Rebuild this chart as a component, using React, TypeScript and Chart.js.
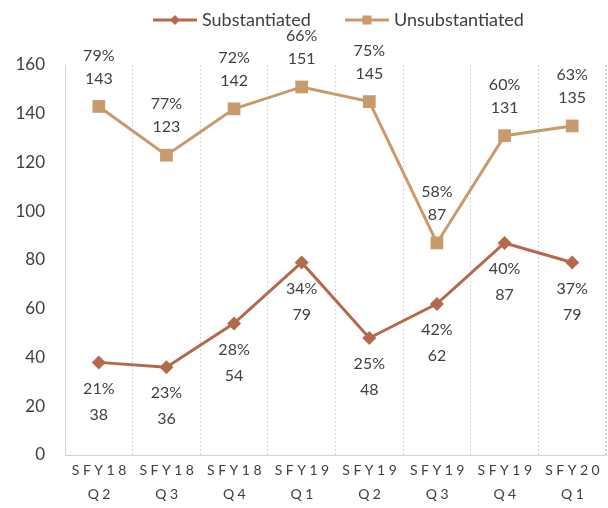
import React, { useEffect, useRef } from "react";
import { Chart, registerables } from "chart.js";

Chart.register(...registerables);

const categories: string[][] = [
  ["SFY18", "Q2"], ["SFY18", "Q3"], ["SFY18", "Q4"], ["SFY19", "Q1"],
  ["SFY19", "Q2"], ["SFY19", "Q3"], ["SFY19", "Q4"], ["SFY20", "Q1"],
];
const substantiated = [38, 36, 54, 79, 48, 62, 87, 79];
const unsubstantiated = [143, 123, 142, 151, 145, 87, 131, 135];
const substantiatedPct = ["21%", "23%", "28%", "34%", "25%", "42%", "40%", "37%"];
const unsubstantiatedPct = ["79%", "77%", "72%", "66%", "75%", "58%", "60%", "63%"];
const yTicks = [0, 20, 40, 60, 80, 100, 120, 140, 160];

const SUB_COLOR = "#B5694C";
const UNSUB_COLOR = "#C99A6B";
const TEXT = "#404040";
const FONT = "Lato, 'Liberation Sans', sans-serif";

const overlayPlugin = {
  id: "overlay",
  afterDatasetsDraw(chart: any) {
    const ctx = chart.ctx;
    ctx.save();
    ctx.fillStyle = TEXT;
    ctx.textAlign = "center";
    ctx.textBaseline = "middle";
    ctx.font = `16px ${FONT}`;
    const m0 = chart.getDatasetMeta(0);
    const m1 = chart.getDatasetMeta(1);
    m0.data.forEach((pt: any, i: number) => {
      ctx.fillText(substantiatedPct[i], pt.x, pt.y + 26);
      ctx.fillText(String(substantiated[i]), pt.x, pt.y + 52);
    });
    m1.data.forEach((pt: any, i: number) => {
      ctx.fillText(unsubstantiatedPct[i], pt.x, pt.y - 51);
      ctx.fillText(String(unsubstantiated[i]), pt.x, pt.y - 28);
    });
    ctx.restore();
  },
  afterDraw(chart: any) {
    const ctx = chart.ctx;
    const xs = chart.scales.x;
    ctx.save();
    // x labels with letter spacing
    ctx.fillStyle = TEXT;
    ctx.textAlign = "center";
    ctx.textBaseline = "middle";
    ctx.font = `14px ${FONT}`;
    (ctx as any).letterSpacing = "3.5px";
    categories.forEach((lines, i) => {
      const x = xs.getPixelForTick(i) + 2;
      ctx.fillText(lines[0], x, 470);
      ctx.fillText(lines[1], x, 494);
    });
    (ctx as any).letterSpacing = "0px";
    // legend
    const items = [
      { label: "Substantiated", color: SUB_COLOR, style: "diamond", x0: 153 },
      { label: "Unsubstantiated", color: UNSUB_COLOR, style: "square", x0: 345 },
    ];
    const ly = 20;
    ctx.font = `18px ${FONT}`;
    ctx.textAlign = "left";
    items.forEach((it) => {
      ctx.strokeStyle = it.color;
      ctx.lineWidth = 3;
      ctx.beginPath();
      ctx.moveTo(it.x0, ly);
      ctx.lineTo(it.x0 + 44, ly);
      ctx.stroke();
      ctx.fillStyle = it.color;
      const cx = it.x0 + 22;
      if (it.style === "diamond") {
        ctx.beginPath();
        ctx.moveTo(cx, ly - 5);
        ctx.lineTo(cx + 5, ly);
        ctx.lineTo(cx, ly + 5);
        ctx.lineTo(cx - 5, ly);
        ctx.closePath();
        ctx.fill();
      } else {
        ctx.fillRect(cx - 4.5, ly - 4.5, 9, 9);
      }
      ctx.fillStyle = TEXT;
      ctx.fillText(it.label, it.x0 + 49, ly);
    });
    // right border
    const ca = chart.chartArea;
    ctx.strokeStyle = "#D4D4D4";
    ctx.lineWidth = 1;
    ctx.setLineDash([2, 2]);
    ctx.beginPath();
    ctx.moveTo(ca.right - 0.5, ca.top);
    ctx.lineTo(ca.right - 0.5, ca.bottom);
    ctx.stroke();
    ctx.restore();
  },
};

export default function App() {
  const ref = useRef<HTMLCanvasElement>(null);
  useEffect(() => {
    if (!ref.current) return;
    const chart = new Chart(ref.current, {
      type: "line",
      data: {
        labels: categories.map((c) => c.join(" ")),
        datasets: [
          {
            label: "Substantiated",
            data: substantiated,
            borderColor: SUB_COLOR,
            backgroundColor: SUB_COLOR,
            borderWidth: 3,
            pointStyle: "rectRot",
            pointRadius: 7,
            pointBorderWidth: 0,
            tension: 0,
          },
          {
            label: "Unsubstantiated",
            data: unsubstantiated,
            borderColor: UNSUB_COLOR,
            backgroundColor: UNSUB_COLOR,
            borderWidth: 3,
            pointStyle: "rect",
            pointRadius: 9,
            pointBorderWidth: 0,
            tension: 0,
          },
        ],
      },
      options: {
        animation: false,
        responsive: false,
        maintainAspectRatio: false,
        layout: { autoPadding: false, padding: { top: 65, right: 2, left: 0, bottom: 0 } },
        plugins: { legend: { display: false }, tooltip: { enabled: false } },
        elements: { point: { hitRadius: 0, hoverRadius: 0 } },
        scales: {
          x: {
            offset: true,
            grid: {
              display: true,
              offset: true,
              color: "#D4D4D4",
              lineWidth: 1,
              drawTicks: false,
            },
            border: { display: true, color: "#D4D4D4", dash: [2, 2] },
            ticks: { color: "rgba(0,0,0,0)", callback: () => "" },
            afterFit: (s: any) => {
              s.height = 53;
              s.paddingLeft = 0;
              s.paddingRight = 0;
            },
          },
          y: {
            min: 0,
            max: 160,
            afterBuildTicks: (s: any) => { s.ticks = yTicks.map((v) => ({ value: v })); },
            grid: { display: false },
            border: { display: true, color: "#D4D4D4", dash: [2, 2] },
            ticks: { color: TEXT, font: { size: 17, family: FONT }, padding: 12 },
            afterFit: (s: any) => { s.width = 65; },
          },
        },
      },
      plugins: [overlayPlugin],
    });
    return () => chart.destroy();
  }, []);
  return (
    <div style={{ position: "absolute", left: 0, top: 0, width: 608, height: 508 }}>
      <canvas ref={ref} width={608} height={508} style={{ width: 608, height: 508 }} />
    </div>
  );
}
